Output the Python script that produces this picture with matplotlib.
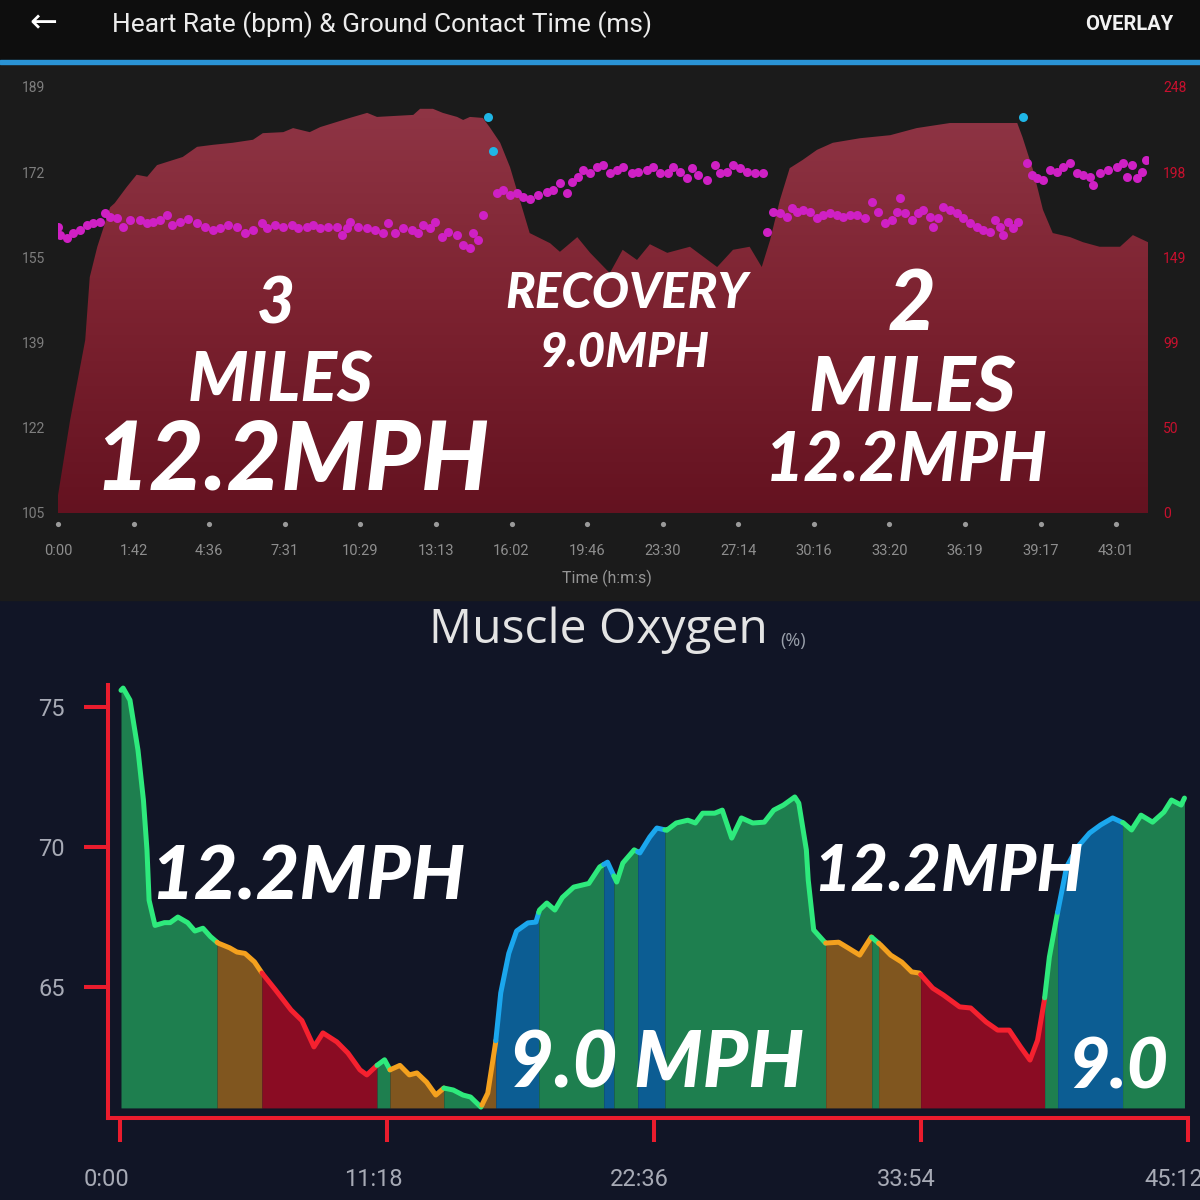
import numpy as np
import matplotlib
matplotlib.use("Agg")
import matplotlib.pyplot as plt
import matplotlib.transforms as mtransforms
from matplotlib.patches import Rectangle
from matplotlib.colors import LinearSegmentedColormap

plt.rcParams['font.family'] = ['Roboto', 'DejaVu Sans']

# ---------------- top chart: heart rate + ground contact time
# x is distance (one unit per tick), labels are elapsed time at those ticks
top_tick_labels = ["0:00", "1:42", "4:36", "7:31", "10:29", "13:13", "16:02", "19:46",
                   "23:30", "27:14", "30:16", "33:20", "36:19", "39:17", "43:01"]
hr_left_labels = ["105", "122", "139", "155", "172", "189"]
gct_right_labels = ["0", "50", "99", "149", "198", "248"]

hr_dist = [0.00, 0.16, 0.36, 0.42, 0.52, 0.69, 0.75, 0.91, 1.04, 1.18,
           1.31, 1.65, 1.84, 2.05, 2.31, 2.58, 2.71, 2.98, 3.11, 3.33,
           3.47, 3.86, 4.09, 4.22, 4.70, 4.79, 4.96, 5.09, 5.28, 5.36,
           5.45, 5.62, 5.71, 5.85, 5.98, 6.11, 6.24, 6.51, 6.64, 6.87,
           7.04, 7.30, 7.47, 7.66, 7.83, 8.06, 8.36, 8.72, 8.93, 9.15,
           9.31, 9.42, 9.55, 9.68, 9.85, 10.04, 10.25, 10.61, 11.01, 11.36,
           11.80, 12.24, 12.69, 12.76, 12.90, 13.03, 13.16, 13.39, 13.56, 13.78,
           14.05, 14.22, 14.42]
hr_bpm = [108.5, 123.3, 139.1, 151.5, 157.5, 165.3, 166.1, 169.3, 171.7, 171.3,
          173.6, 175.2, 177.2, 177.6, 178.0, 178.6, 179.9, 180.1, 180.9, 180.1,
          181.1, 182.9, 183.9, 183.1, 183.5, 184.7, 184.7, 183.9, 183.1, 182.5,
          183.1, 182.9, 181.1, 178.0, 173.2, 166.7, 160.2, 158.2, 156.5, 159.4,
          156.3, 152.3, 156.9, 154.9, 158.0, 156.3, 157.5, 153.5, 156.9, 157.5,
          153.5, 158.8, 166.7, 173.0, 174.6, 176.6, 178.0, 178.9, 179.5, 180.9,
          181.9, 181.9, 181.9, 179.1, 172.6, 164.8, 160.2, 159.4, 158.4, 157.5,
          157.5, 159.8, 158.4]

peak_dist = [5.69, 5.75, 12.76]
peak_bpm = [183.1, 176.4, 183.1]

gct_dist_a = [0.00, 0.03, 0.12, 0.20, 0.29, 0.38, 0.46, 0.56, 0.62, 0.69,
              0.78, 0.86, 0.95, 1.08, 1.18, 1.26, 1.35, 1.44, 1.51, 1.61,
              1.72, 1.84, 1.94, 2.05, 2.14, 2.25, 2.37, 2.47, 2.58, 2.70,
              2.76, 2.87, 2.98, 3.10, 3.17, 3.29, 3.37, 3.47, 3.57, 3.69,
              3.76, 3.82, 3.86, 3.97, 4.09, 4.19, 4.30, 4.37, 4.46, 4.56,
              4.68, 4.76, 4.83, 4.92, 4.99, 5.08, 5.16, 5.28, 5.36, 5.45,
              5.49, 5.56, 5.62]
gct_ms_a = [166.5, 161.9, 160.1, 163.0, 164.8, 167.7, 168.8, 169.4, 174.7, 172.3,
            171.7, 166.5, 170.6, 170.6, 168.8, 169.4, 170.6, 173.5, 167.7, 169.4,
            171.2, 168.8, 166.5, 164.8, 165.9, 167.7, 166.5, 163.0, 164.8, 168.8,
            165.9, 167.7, 166.5, 167.7, 165.9, 166.5, 167.7, 165.9, 166.5, 166.5,
            161.9, 165.9, 169.4, 166.5, 165.9, 164.8, 163.0, 168.8, 163.0, 165.9,
            164.8, 163.0, 167.7, 165.9, 169.4, 160.7, 163.6, 161.9, 156.0, 154.3,
            163.0, 158.9, 173.5]
gct_dist_b = [5.81, 5.89, 5.98, 6.07, 6.15, 6.24, 6.35, 6.47, 6.55, 6.64,
              6.73, 6.80, 6.88, 6.94, 7.04, 7.13, 7.21, 7.30, 7.39, 7.47,
              7.59, 7.67, 7.79, 7.87, 7.96, 8.07, 8.13, 8.23, 8.32, 8.39,
              8.47, 8.58, 8.69, 8.76, 8.85, 8.93, 9.02, 9.11, 9.22, 9.33]
gct_ms_b = [186.3, 188.1, 185.1, 186.3, 184.0, 182.8, 185.1, 186.9, 188.1, 192.1,
            186.3, 192.7, 195.6, 199.7, 197.9, 201.4, 202.6, 197.9, 199.7, 201.4,
            197.9, 198.5, 199.7, 201.4, 197.9, 197.9, 201.4, 198.5, 195.0, 200.9,
            196.8, 193.9, 202.6, 197.9, 198.5, 202.6, 200.9, 198.5, 197.9, 197.9]
gct_dist_c = [9.38, 9.46, 9.55, 9.64, 9.71, 9.78, 9.85, 9.95, 10.04, 10.12,
              10.21, 10.30, 10.38, 10.48, 10.57, 10.67, 10.77, 10.85, 10.94, 11.03,
              11.10, 11.14, 11.20, 11.30, 11.38, 11.44, 11.53, 11.57, 11.64, 11.71,
              11.80, 11.89, 11.97, 12.06, 12.16, 12.24, 12.33, 12.39, 12.46, 12.50,
              12.57, 12.63, 12.70]
gct_ms_c = [163.6, 175.2, 174.7, 172.3, 177.6, 175.2, 176.4, 175.2, 171.7, 173.5,
            174.7, 173.5, 172.3, 173.5, 173.5, 171.7, 181.1, 175.2, 168.8, 170.6,
            175.2, 183.4, 174.7, 170.6, 174.7, 176.4, 172.3, 166.5, 171.7, 178.2,
            176.4, 174.7, 171.7, 168.8, 166.5, 164.8, 163.6, 170.6, 166.5, 161.9,
            169.4, 165.9, 169.4]
gct_dist_d = [12.82, 12.88, 12.95, 13.03, 13.12, 13.21, 13.29, 13.39, 13.48, 13.56,
              13.65, 13.69, 13.78, 13.89, 14.01, 14.09, 14.14, 14.21, 14.27, 14.34,
              14.40]
gct_ms_d = [203.8, 196.8, 195.0, 193.9, 199.7, 198.5, 201.4, 203.8, 197.9, 196.8,
            195.6, 191.0, 197.9, 199.7, 201.4, 203.8, 195.6, 202.6, 195.0, 198.5,
            205.5]

# ---------------- bottom chart: muscle oxygen (%)
mo_tick_min = [0, 11.3, 22.6, 33.9, 45.2]
mo_tick_labels = ["0:00", "11:18", "22:36", "33:54", "45:12"]
mo_time = [0.04, 0.13, 0.42, 0.76, 0.99, 1.14, 1.23, 1.48, 1.88, 2.12,
           2.45, 2.86, 3.17, 3.51, 3.83, 4.15, 4.64, 4.95, 5.29, 5.69,
           6.01, 6.58, 7.24, 7.70, 8.21, 8.59, 9.18, 9.65, 10.16, 10.45,
           10.88, 11.20, 11.43, 11.85, 12.25, 12.57, 12.98, 13.37, 13.71, 14.11,
           14.52, 14.84, 15.28, 15.57, 15.90, 16.12, 16.46, 16.79, 17.27, 17.61,
           17.76, 18.07, 18.41, 18.73, 19.21, 19.85, 20.31, 20.64, 21.03, 21.29,
           21.77, 22.01, 22.43, 22.73, 23.15, 23.55, 24.04, 24.36, 24.67, 25.18,
           25.50, 25.90, 26.31, 26.79, 27.28, 27.68, 28.09, 28.57, 28.74, 29.06,
           29.14, 29.37, 29.87, 30.43, 30.84, 31.32, 31.81, 32.21, 32.63, 33.10,
           33.52, 33.84, 34.41, 34.87, 35.55, 36.02, 36.67, 37.16, 37.65, 38.13,
           38.53, 38.85, 39.14, 39.35, 39.66, 40.08, 40.54, 41.05, 41.52, 42.03,
           42.49, 42.83, 43.23, 43.72, 44.20, 44.52, 44.93, 45.07]
mo_pct = [75.6, 75.68, 75.25, 73.46, 71.68, 69.9, 68.1, 67.2, 67.3, 67.3,
          67.5, 67.3, 67.0, 67.1, 66.8, 66.57, 66.4, 66.25, 66.2, 65.9,
          65.5, 64.9, 64.18, 63.8, 62.86, 63.36, 63.04, 62.64, 62.04, 61.86,
          62.2, 62.4, 62.04, 62.2, 61.86, 61.93, 61.6, 61.14, 61.39, 61.32,
          61.14, 61.07, 60.71, 61.21, 63.0, 64.79, 66.2, 67.0, 67.29, 67.32,
          67.75, 68.0, 67.75, 68.2, 68.57, 68.7, 69.29, 69.46, 68.75, 69.43,
          69.9, 69.79, 70.36, 70.68, 70.6, 70.86, 70.96, 70.86, 71.21, 71.21,
          71.32, 70.32, 71.04, 70.86, 70.89, 71.32, 71.5, 71.79, 71.57, 69.9,
          68.82, 67.04, 66.57, 66.6, 66.39, 66.14, 66.79, 66.5, 66.14, 65.89,
          65.54, 65.5, 64.96, 64.71, 64.29, 64.25, 63.75, 63.46, 63.46, 62.86,
          62.39, 63.1, 64.54, 66.07, 67.5, 69.29, 70.0, 70.5, 70.79, 71.04,
          70.86, 70.61, 71.14, 70.89, 71.25, 71.68, 71.5, 71.75]
zone_start = [0.04, 4.11, 6.01, 10.88, 11.43, 13.71, 15.32, 15.91, 17.73, 20.48,
              20.91, 21.92, 23.07, 29.88, 31.83, 32.12, 33.90, 39.15, 39.70, 42.45]
zone_kind = ['g', 'o', 'r', 'g', 'o', 'g', 'o', 'b', 'g', 'b',
             'g', 'b', 'g', 'o', 'g', 'o', 'r', 'g', 'b', 'g']
mo_end = 45.07
mo_base = 60.68

fill_col = {'g': '#1e7f4f', 'o': '#80561f', 'r': '#8a0c23', 'b': '#0c5d93'}
line_col = {'g': '#2eea7c', 'o': '#f4a11e', 'r': '#f5212f', 'b': '#1ba7ee'}


def fx(px):
    return px / 1200


def fy(py):
    return 1 - py / 1200


fig = plt.figure(figsize=(12, 12), dpi=100)
fig.patch.set_facecolor('#111526')

# backgrounds
fig.add_artist(Rectangle((0, fy(600)), 1, fy(64) - fy(600), transform=fig.transFigure,
                         color='#1b1b1b', zorder=0))
fig.add_artist(Rectangle((0, fy(60)), 1, fy(0) - fy(60), transform=fig.transFigure,
                         color='#0e0e0e', zorder=0))
fig.add_artist(Rectangle((0, fy(64)), 1, fy(60.5) - fy(64), transform=fig.transFigure,
                         color='#2a93d5', zorder=0))

# header
fig.text(fx(43), fy(23), "\u2190", color='white', fontsize=24, ha='center', va='center',
         family=['DejaVu Sans'])
fig.text(fx(112), fy(25), "Heart Rate (bpm) & Ground Contact Time (ms)", color='#ececec',
         fontsize=18.9, ha='left', va='center')
fig.text(fx(1173), fy(25), "OVERLAY", color='#f2f2f2', fontsize=14.5, ha='right', va='center',
         fontweight='bold')

# ---- top axes
ax = fig.add_axes([fx(58), fy(513), (1148 - 58) / 1200, (513 - 87) / 1200])
ax.set_facecolor('none')
poly, = ax.fill(np.r_[hr_dist, hr_dist[-1], hr_dist[0]], np.r_[hr_bpm, 105, 105],
                facecolor='none', edgecolor='none')
grad = np.linspace(0, 1, 256).reshape(-1, 1)
cmap = LinearSegmentedColormap.from_list('hr', ['#641220', '#7c2230', '#8f3545'])
im = ax.imshow(grad, extent=[0, 14.42, 105, 185], origin='lower', aspect='auto',
               cmap=cmap, zorder=1)
im.set_clip_path(poly)
ax.scatter(peak_dist, peak_bpm, s=42, color='#1fb6e6', zorder=4, lw=0)
ax.set_xlim(0, 14.42)
ax.set_ylim(105, 189)
for s in ax.spines.values():
    s.set_visible(False)
ax.set_yticks(np.linspace(105, 189, 6))
ax.set_yticklabels(hr_left_labels)
ax.set_xticks(range(len(top_tick_labels)))
ax.set_xticklabels(top_tick_labels)
ax.tick_params(axis='y', length=0, pad=9, labelcolor='#7e7e7e', labelsize=10)
ax.tick_params(axis='x', length=0, pad=22, labelcolor='#8e8e8e', labelsize=10.5)
ax.scatter(range(len(top_tick_labels)), [-0.026] * len(top_tick_labels), s=14,
           color='#9a9a9a', transform=ax.get_xaxis_transform(), clip_on=False, lw=0)

ax2 = ax.twinx()
ax2.set_ylim(0, 248)
for s in ax2.spines.values():
    s.set_visible(False)
ax2.set_yticks(np.linspace(0, 248, 6))
ax2.set_yticklabels(gct_right_labels)
ax2.tick_params(axis='y', length=0, pad=11, labelcolor='#c8102e', labelsize=10)
for gd, gm in [(gct_dist_a, gct_ms_a), (gct_dist_b, gct_ms_b),
               (gct_dist_c, gct_ms_c), (gct_dist_d, gct_ms_d)]:
    ax2.scatter(gd, gm, s=42, color='#cf20c4', lw=0, zorder=3)
ax2.set_xlim(0, 14.42)

fig.text(fx(607), fy(578), "Time (h:m:s)", color='#959595', fontsize=11.5,
         ha='center', va='center')

# ---- bottom axes
ax3 = fig.add_axes([fx(108), fy(1118), (1188 - 108) / 1200, (1118 - 685) / 1200])
ax3.set_facecolor('none')
t = np.array(mo_time)
p = np.array(mo_pct)
zone_end = zone_start[1:] + [mo_end]
for a, b, k in zip(zone_start, zone_end, zone_kind):
    inside = (t > a) & (t < b)
    xs = np.r_[a, t[inside], b]
    ys = np.r_[np.interp(a, t, p), p[inside], np.interp(b, t, p)]
    ax3.fill_between(xs, mo_base, ys, color=fill_col[k], lw=0, zorder=2)
    ax3.plot(xs, ys, color=line_col[k], lw=3.6, solid_capstyle='round',
             solid_joinstyle='round', zorder=3)

red = '#ea1c2d'
ax3.set_xlim(-0.51, 45.22)
ax3.set_ylim(60.32, 75.79)
ax3.spines['top'].set_visible(False)
ax3.spines['right'].set_visible(False)
for s in ['left', 'bottom']:
    ax3.spines[s].set_color(red)
    ax3.spines[s].set_linewidth(2.9)
ax3.set_xticks(mo_tick_min)
ax3.set_xticklabels(mo_tick_labels)
ax3.set_yticks([65, 70, 75])
ax3.tick_params(axis='both', color=red, width=2.9, length=17, direction='out',
                labelcolor='#a7aab5', labelsize=17)
ax3.tick_params(axis='x', pad=19)
ax3.tick_params(axis='y', pad=14)
# the app draws time labels a little left of their ticks
shift = mtransforms.ScaledTranslation(-0.14, 0, fig.dpi_scale_trans)
for lab in ax3.get_xticklabels():
    lab.set_transform(lab.get_transform() + shift)

fig.canvas.draw()
renderer = fig.canvas.get_renderer()


def fit_text(x, y, s, width, **kw):
    txt = fig.text(fx(x), fy(y), s, ha='center', va='center', fontsize=40, **kw)
    w = txt.get_window_extent(renderer).width
    txt.set_fontsize(40 * width / w)
    return txt


fit_text(598, 630, "Muscle Oxygen", 338, color='#e4e4e4', family=['Open Sans', 'DejaVu Sans'])
fig.text(fx(793), fy(641), "(%)", color='#9aa0ab', fontsize=13, ha='center', va='center',
         family=['Open Sans', 'DejaVu Sans'])

brush = dict(color='white', fontweight='black', fontstyle='italic',
             family=['Lato', 'DejaVu Sans'], zorder=10)
fit_text(276, 305, "3", 38, **brush)
fit_text(280, 382, "MILES", 185, **brush)
fit_text(292, 462, "12.2MPH", 395, **brush)
fit_text(627, 293, "RECOVERY", 243, **brush)
fit_text(625, 353, "9.0MPH", 170, **brush)
fit_text(912, 305, "2", 48, **brush)
fit_text(912, 390, "MILES", 207, **brush)
fit_text(906, 462, "12.2MPH", 283, **brush)
fit_text(308, 878, "12.2MPH", 315, **brush)
fit_text(657, 1066, "9.0 MPH", 295, **brush)
fit_text(948, 872, "12.2MPH", 270, **brush)
fit_text(1118, 1068, "9.0", 100, **brush)

fig.savefig("out.png", dpi=100, facecolor=fig.get_facecolor())
